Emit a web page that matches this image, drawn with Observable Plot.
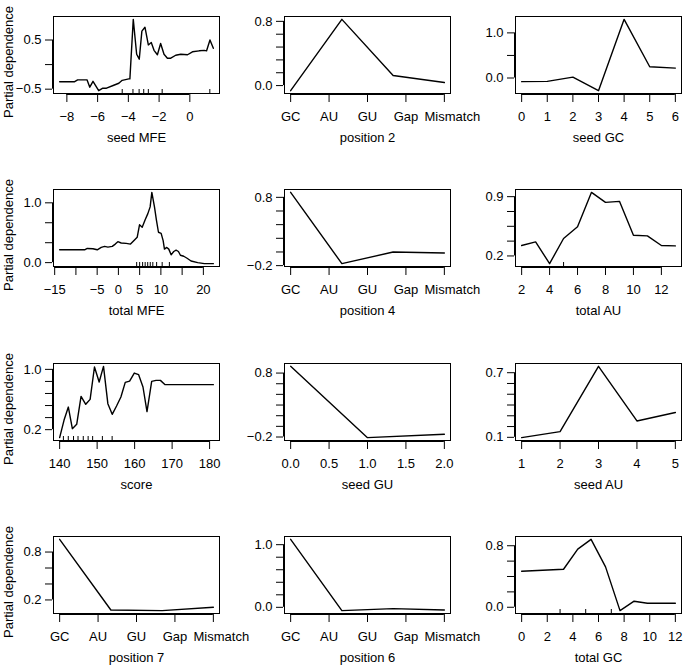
<!DOCTYPE html>
<html><head><meta charset="utf-8">
<script src="https://cdn.jsdelivr.net/npm/d3@7"></script>
<script src="https://cdn.jsdelivr.net/npm/@observablehq/plot@0.6"></script>
<style>
body{margin:0;background:#fff;}
#chart{position:relative;width:686px;height:669px;overflow:hidden;background:#fff;}
#chart svg{position:absolute;overflow:visible;}
</style></head><body><div id="chart"></div>
<script>
const pairTypes = ["GC","AU","GU","Gap","Mismatch"];
const yTitle = "Partial dependence";

// seed MFE
const seedMFE_x = [-8.47,-7.52,-7.30,-6.69,-6.51,-6.30,-5.93,-5.66,-5.42,-4.95,-4.62,-4.40,-3.97,-3.90,-3.68,-3.46,-3.29,-3.12,-2.92,-2.70,-2.51,-2.33,-2.11,-1.90,-1.68,-1.46,-1.24,-0.92,-0.59,-0.15,0.17,0.61,0.94,1.09,1.31,1.53];
const seedMFE_y = [-0.35,-0.35,-0.31,-0.31,-0.46,-0.34,-0.53,-0.48,-0.48,-0.42,-0.38,-0.32,-0.29,-0.29,0.92,0.21,0.11,0.68,0.76,0.40,0.45,0.29,0.20,0.43,0.21,0.13,0.13,0.19,0.21,0.20,0.26,0.28,0.29,0.28,0.50,0.33];
const seedMFE_rug = [-4.4,-3.7,-3.3,-3.0,-2.7,-1.8,1.3];

// position 2
const pos2_x = [1, 2.333, 3.667, 5];
const pos2_y = [-0.063, 0.825, 0.126, 0.038];

// seed GC
const seedGC_x = [0,1,2,3,4,5,6];
const seedGC_y = [-0.08,-0.075,0.02,-0.28,1.30,0.25,0.22];

// total MFE
const totMFE_x = [-13.83,-7.95,-7.33,-6.0,-4.98,-4.04,-3.25,-2.47,-1.45,-0.74,-0.13,0.66,1.84,2.85,3.79,4.42,4.97,5.6,6.3,6.93,7.47,7.87,8.49,8.96,9.43,10.06,10.53,10.84,11.39,11.86,12.41,13.03,13.58,14.13,14.6,15.38,16.17,17.1,18.67,20.24,22.35];
const totMFE_y = [0.215,0.215,0.237,0.232,0.215,0.254,0.271,0.26,0.271,0.31,0.35,0.328,0.322,0.31,0.379,0.424,0.633,0.593,0.718,0.819,0.932,1.175,0.932,0.706,0.508,0.49,0.367,0.226,0.254,0.226,0.13,0.186,0.209,0.186,0.124,0.107,0.073,0.028,0.0,-0.017,-0.017];
const totMFE_rug = [4.3,5.0,5.7,6.3,6.9,7.5,8.1,9.0,10.3,12.0];

// position 4
const pos4_x = [1, 2.333, 3.667, 5];
const pos4_y = [0.873, -0.171, -0.001, -0.016];

// total AU
const totAU_x = [2,3,4,5,6,7,8,9,10,11,12,13];
const totAU_y = [0.323,0.366,0.109,0.406,0.544,0.951,0.833,0.845,0.445,0.437,0.323,0.319];
const totAU_rug = [5];

// score
const score_x = [140,141.16,142.32,143.39,144.55,145.71,146.96,148.13,149.29,150.54,151.7,152.86,154.02,155.18,156.34,157.5,158.66,159.91,161.07,162.23,163.3,164.55,165.71,166.88,168.13,169.3,181];
const score_y = [0.094,0.324,0.5,0.213,0.271,0.642,0.536,0.602,1.031,0.832,1.04,0.545,0.403,0.514,0.633,0.828,0.845,0.951,0.929,0.766,0.439,0.841,0.854,0.854,0.797,0.797,0.797];
const score_rug = [141,142.3,143.7,144.9,146.3,147.6,148.8,151.4,154];

// seed GU
const seedGU_x = [0,1,2];
const seedGU_y = [0.905,-0.21,-0.158];

// seed AU
const seedAU_x = [1,2,3,4,5];
const seedAU_y = [0.097,0.153,0.759,0.252,0.33];

// position 7
const pos7_x = [1, 2.333, 3.667, 5];
const pos7_y = [0.959, 0.074, 0.066, 0.108];

// position 6
const pos6_x = [1, 2.333, 3.667, 5];
const pos6_y = [1.085, -0.053, -0.021, -0.042];

// total GC
const totGC_x = [0,3.27,4.38,5.42,6.55,7.68,8.78,9.82,12];
const totGC_y = [0.468,0.494,0.756,0.883,0.525,-0.044,0.079,0.052,0.052];
const totGC_rug = [3,5,7];

// tick values and labels
const catTicks = [1,2,3,4,5];
const panels = [
  {label:"seed MFE", x:seedMFE_x, y:seedMFE_y, rug:seedMFE_rug,
   xTicks:[-8,-6,-4,-2,0], xLabels:["−8","−6","−4","−2","0"],
   yTicks:[-0.5,0,0.5], yLabels:["−0.5","","0.5"]},
  {label:"position 2", x:pos2_x, y:pos2_y, rug:[], cat:true,
   xTicks:catTicks, xLabels:pairTypes,
   yTicks:[0,0.16,0.32,0.48,0.64,0.8], yLabels:["0.0","","","","","0.8"]},
  {label:"seed GC", x:seedGC_x, y:seedGC_y, rug:[],
   xTicks:[0,1,2,3,4,5,6], xLabels:["0","1","2","3","4","5","6"],
   yTicks:[0,0.5,1.0], yLabels:["0.0","","1.0"]},
  {label:"total MFE", x:totMFE_x, y:totMFE_y, rug:totMFE_rug,
   xTicks:[-15,-10,-5,0,5,10,15,20], xLabels:["−15","","−5","0","5","10","","20"],
   yTicks:[0,0.333,0.667,1.0], yLabels:["0.0","","","1.0"]},
  {label:"position 4", x:pos4_x, y:pos4_y, rug:[], cat:true,
   xTicks:catTicks, xLabels:pairTypes,
   yTicks:[-0.2,0,0.2,0.4,0.6,0.8], yLabels:["−0.2","","","","","0.8"]},
  {label:"total AU", x:totAU_x, y:totAU_y, rug:totAU_rug,
   xTicks:[2,4,6,8,10,12], xLabels:["2","4","6","8","10","12"],
   yTicks:[0.2,0.375,0.55,0.725,0.9], yLabels:["0.2","","","","0.9"]},
  {label:"score", x:score_x, y:score_y, rug:score_rug,
   xTicks:[140,150,160,170,180], xLabels:["140","150","160","170","180"],
   yTicks:[0.2,0.36,0.52,0.68,0.84,1.0], yLabels:["0.2","","","","","1.0"]},
  {label:"seed GU", x:seedGU_x, y:seedGU_y, rug:[],
   xTicks:[0,0.5,1,1.5,2], xLabels:["0.0","0.5","1.0","1.5","2.0"],
   yTicks:[-0.2,-0.033,0.133,0.3,0.467,0.633,0.8], yLabels:["−0.2","","","","","","0.8"]},
  {label:"seed AU", x:seedAU_x, y:seedAU_y, rug:[],
   xTicks:[1,2,3,4,5], xLabels:["1","2","3","4","5"],
   yTicks:[0.1,0.2,0.3,0.4,0.5,0.6,0.7], yLabels:["0.1","","","","","","0.7"]},
  {label:"position 7", x:pos7_x, y:pos7_y, rug:[], cat:true,
   xTicks:catTicks, xLabels:pairTypes,
   yTicks:[0.2,0.4,0.6,0.8], yLabels:["0.2","","","0.8"]},
  {label:"position 6", x:pos6_x, y:pos6_y, rug:[], cat:true,
   xTicks:catTicks, xLabels:pairTypes,
   yTicks:[0,0.2,0.4,0.6,0.8,1.0], yLabels:["0.0","","","","","1.0"]},
  {label:"total GC", x:totGC_x, y:totGC_y, rug:totGC_rug,
   xTicks:[0,2,4,6,8,10,12], xLabels:["0","2","4","6","8","10","12"],
   yTicks:[0,0.2,0.4,0.6,0.8], yLabels:["0.0","","","","0.8"]}
];

const W = 231, H = 173, ML = 53, MT = 16, FW = 166, FH = 77;
const colX = [0, 231, 462];
const rowY = [0, 173.3, 347.3, 520];
const font = '"Liberation Sans", Arial, Helvetica, sans-serif';

function pad(ext){ const p = (ext[1]-ext[0])*0.04; return [ext[0]-p, ext[1]+p]; }

const root = document.getElementById("chart");
panels.forEach((p, i) => {
  const col = i % 3, row = Math.floor(i / 3);
  const xd = pad(d3.extent(p.x)), yd = pad(d3.extent(p.y));
  const data = p.x.map((x, j) => ({x, y: p.y[j]}));
  const last = p.xTicks[p.xTicks.length - 1];
  const xfmt = new Map(p.xTicks.map((t, j) => [t, (p.cat && t === last) ? "" : p.xLabels[j]]));
  const yfmt = new Map(p.yTicks.map((t, j) => [t, p.yLabels[j]]));
  const marks = [
    Plot.frame({stroke: "black", strokeWidth: 1}),
    Plot.line(data, {x: "x", y: "y", stroke: "black", strokeWidth: 1.4}),
    Plot.tickX(p.rug, {x: d => d, insetTop: FH - 4, stroke: "black", strokeWidth: 1}),
    Plot.axisX(p.xTicks, {tickSize: 8, tickPadding: 9, dy: 1, label: null, tickFormat: t => xfmt.get(t), color: "black"}),
    Plot.ruleY([yd[0]], {y: d => d, x1: p.xTicks[0], x2: last, dy: 1, stroke: "black"}),
    Plot.axisY(p.yTicks, {tickSize: 7, tickPadding: 4, dx: -1, label: null, tickFormat: t => yfmt.get(t), color: "black"}),
    Plot.ruleX([xd[0]], {x: d => d, y1: p.yTicks[0], y2: p.yTicks[p.yTicks.length-1], dx: -1, stroke: "black"}),
    Plot.text([p.label], {frameAnchor: "bottom", lineAnchor: "middle", textAnchor: "middle", dy: 44, text: d => d, fill: "black", fontSize: 13})
  ];
  if (p.cat) {
    // last category label nudged right, as in the reference
    marks.push(Plot.axisX([last], {tickSize: 0, tickPadding: 17, dy: 1, dx: 8, label: null, tickFormat: () => p.xLabels[p.xLabels.length - 1], color: "black"}));
  }
  if (col === 0) marks.push(Plot.text([yTitle], {frameAnchor: "left", rotate: -90, textAnchor: "middle", lineAnchor: "middle", dx: -45, dy: 7, text: d => d, fill: "black", fontSize: 13}));
  const svg = Plot.plot({
    width: W, height: H,
    marginLeft: ML, marginTop: MT, marginRight: W - ML - FW, marginBottom: H - MT - FH,
    x: {domain: xd, label: null},
    y: {domain: yd, label: null},
    style: {fontFamily: font, fontSize: "13px", background: "transparent", overflow: "visible", color: "black"},
    marks
  });
  svg.style.left = colX[col] + "px";
  svg.style.top = rowY[row] + "px";
  root.appendChild(svg);
});
</script>
</body></html>
